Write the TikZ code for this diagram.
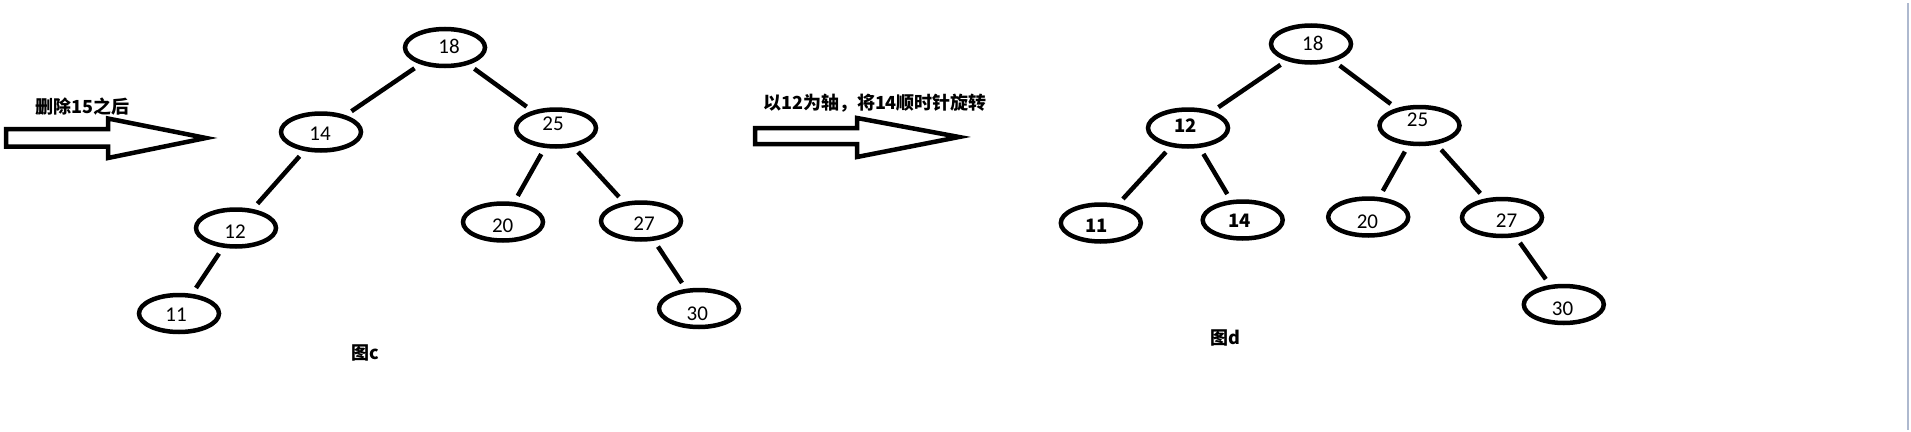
\documentclass[tikz,border=0pt]{standalone}
\usepackage{fontspec}
\setmainfont{Carlito}
\newfontfamily\cjk{Noto Sans CJK SC}
\usetikzlibrary{shapes.geometric}
\tikzset{
  el/.style={draw, ellipse, line width=4.5pt, minimum width=80pt, minimum height=37pt, inner sep=0pt},
  num/.style={font=\fontsize{21}{21}\selectfont, inner sep=0pt},
  bnum/.style={font=\cjk\bfseries\fontsize{18.5}{18.5}\selectfont, inner sep=0pt},
  link/.style={line width=4.5pt, shorten <=7pt, shorten >=7pt},
  bigarrow/.style={draw, line width=4.5pt, line join=miter},
  caption/.style={font=\cjk\bfseries\fontsize{18}{18}\selectfont, inner sep=0pt},
}
\begin{document}
\begin{tikzpicture}[x=1pt,y=-1pt]
\useasboundingbox (0,0) rectangle (1911,431);
% right border line
\draw[line width=2pt, color={rgb,255:red,174;green,185;blue,207}] (1908,3) -- (1908,430);

% arrow 1
\draw[bigarrow] (6,129) -- (108,129) -- (108,118.5) -- (206,138) -- (108,158) -- (108,146.5) -- (6,146.5) -- cycle;
\node[caption] (t1) at (82.5,107) {删除15之后};

% arrow 2
\draw[bigarrow] (755,128) -- (857,128) -- (857,118) -- (959,137) -- (857,157) -- (857,144) -- (755,144) -- cycle;
\node[caption] (t2) at (875,103) {以12为轴，将14顺时针旋转};

% tree c
\node[el] (c18) at (445,47.5) {};
\node[el] (c14) at (321,132) {};
\node[el] (c25) at (556,128) {};
\node[el] (c12) at (236,228) {};
\node[el] (c11) at (179,313.5) {};
\node[el] (c20) at (503,222) {};
\node[el] (c27) at (641,221) {};
\node[el] (c30) at (699,308.5) {};
\node[num] (c18t) at (449,46.5) {18};
\node[num] (c14t) at (320,134) {14};
\node[num] (c25t) at (553,124) {25};
\node[num] (c12t) at (235,231.5) {12};
\node[num] (c11t) at (176,315) {11};
\node[num] (c20t) at (502.7,225.5) {20};
\node[num] (c27t) at (644,224) {27};
\node[num] (c30t) at (697.3,313.3) {30};
\draw[link] (c18) -- (c14);
\draw[link] (c18) -- (c25);
\draw[link] (c14) -- (c12);
\draw[link] (c12) -- (c11);
\draw[link] (c25) -- (c20);
\draw[link] (c25) -- (c27);
\draw[link] (c27) -- (c30);
\node[caption] (capc) at (365.5,352.5) {图c};

% tree d
\node[el] (d18) at (1311,44) {};
\node[el] (d12) at (1188,128) {};
\node[el] (d25) at (1419.5,125.5) {};
\node[el] (d11) at (1100.8,223) {};
\node[el] (d14) at (1242.7,220) {};
\node[el] (d20) at (1368.2,217) {};
\node[el] (d27) at (1502,217.5) {};
\node[el] (d30) at (1563.8,304.5) {};
\node[num] (d18t) at (1312.8,43.3) {18};
\node[bnum] (d12t) at (1185.6,126) {12};
\node[num] (d25t) at (1417.6,120) {25};
\node[bnum] (d11t) at (1096.6,226) {11};
\node[bnum] (d14t) at (1239.7,220.7) {14};
\node[num] (d20t) at (1367.4,221.7) {20};
\node[num] (d27t) at (1506.5,220.7) {27};
\node[num] (d30t) at (1562.6,308.3) {30};
\draw[link] (d18) -- (d12);
\draw[link] (d18) -- (d25);
\draw[link] (d12) -- (d11);
\draw[link] (d12) -- (d14);
\draw[link] (d25) -- (d20);
\draw[link] (d25) -- (d27);
\draw[link] (d27) -- (d30);
\node[caption] (capd) at (1225,337.5) {图d};
\end{tikzpicture}
\end{document}
